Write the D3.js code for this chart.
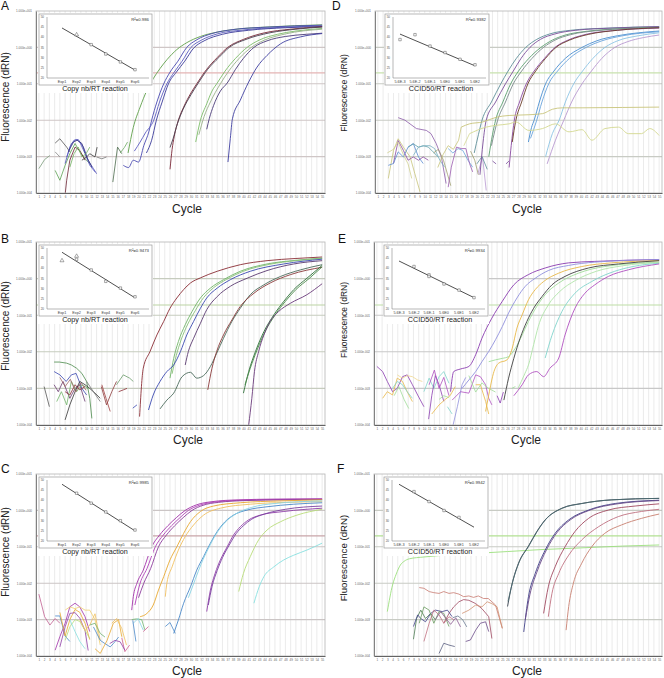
<!DOCTYPE html>
<html><head><meta charset="utf-8">
<script src="https://cdn.jsdelivr.net/npm/d3@7"></script>
<style>
body{margin:0;background:#fff}
svg{display:block}
text{font-family:"Liberation Sans",Arial,Helvetica,sans-serif}
</style>
</head><body>
<svg id="chart" width="664" height="678"></svg>
<script>
// ---------- shared tick data ----------
const cycleTicks = d3.range(1, 56);
const decadeExp = [1, 0, -1, -2, -3, -4];
const decadeLabels = ["1.000e+001","1.000e+000","1.000e-001","1.000e-002","1.000e-003","1.000e-004"];
const insetYTicks = [50, 45, 40, 35, 30, 25, 20];
const insetPositions = [1, 2, 3, 4, 5, 6];
const copyLabels = ["Exp1","Exp2","Exp3","Exp4","Exp5","Exp6"];
const ccidLabels = ["5.6E-3","5.6E-2","5.6E-1","5.6E0","5.6E1","5.6E2"];
const thresholdLog = [-0.7, -0.72, -0.7, -0.7, -0.72, -0.7];

// ---------- Panel A : [cycle, log10 dRn] ----------
const ampA = [
 [[18,-2.9],[19,-2.2],[20.3,-1.64],[21.6,-1.18],[22.8,-0.86],[24.1,-0.58],[25.4,-0.34],[27.3,-0.06],[29.2,0.13],[31.8,0.3],[35,0.42],[38,0.49],[44.5,0.56],[55,0.62]],
 [[17.1,-3.24],[18.1,-3.3],[19,-3.1],[20,-3.15],[21,-2.7],[22,-2.3],[22.5,-2.0],[23.5,-1.5],[24.8,-1.0],[26,-0.68],[27.5,-0.38],[29.2,0],[31,0.2],[34,0.38],[38,0.49],[45,0.56],[55,0.61]],
 [[19.2,-2.85],[20.3,-2.6],[21.3,-2.35],[22.9,-2.0],[24,-1.5],[25.4,-1.0],[26.8,-0.68],[28.3,-0.38],[30,0],[32,0.2],[35,0.37],[40,0.48],[47,0.55],[55,0.59]],
 [[21.5,-2.9],[22.5,-2.55],[23.4,-2.0],[24.5,-1.5],[25.7,-1.0],[27.2,-0.68],[28.8,-0.38],[30.5,-0.02],[32.5,0.18],[36,0.36],[41,0.47],[48,0.54],[55,0.57]],
 [[26,-3.35],[26.4,-2.8],[26.8,-2.45],[27.6,-2.0],[28.6,-1.64],[30,-1.25],[31.1,-1.0],[33,-0.6],[35,-0.28],[37,0],[40,0.22],[44,0.4],[49,0.5],[55,0.57]],
 [[26,-2.75],[26.6,-2.5],[27.4,-2.1],[28.5,-1.7],[30,-1.3],[31.3,-1.0],[33.2,-0.6],[35.3,-0.28],[37.3,0],[40.5,0.22],[45,0.4],[50,0.5],[55,0.56]],
 [[30.9,-2.6],[31.8,-2.0],[33,-1.55],[34,-1.2],[35,-0.98],[36.5,-0.65],[38.5,-0.3],[40.7,0],[43,0.2],[46.5,0.36],[50,0.45],[55,0.52]],
 [[31.5,-2.4],[32.5,-1.9],[33.7,-1.5],[35.6,-1.0],[37.2,-0.65],[39.2,-0.3],[41.5,0],[44,0.2],[48,0.37],[55,0.5]],
 [[33,-2.25],[33.5,-1.95],[34.3,-1.6],[35.6,-1.2],[36.9,-0.98],[38.5,-0.6],[40,-0.3],[42,0],[44.5,0.18],[48,0.3],[52,0.36],[55,0.39]],
 [[37.05,-3.15],[37.5,-2.5],[37.9,-1.96],[39.4,-1.45],[41,-0.95],[42.6,-0.54],[44.5,-0.22],[47.1,0.1],[50.9,0.29],[55,0.38]]
];
const ampAColors = ["#5f9f4a","#4848b0","#5a5ac0","#3a3a98","#7a2838","#4a4050","#7cbc68","#9ab08a","#4a3a78","#3e3ea0"];
const noiseA = [
 [[1,-3.33],[2.1,-3.08],[3.1,-2.97]],
 [[4.1,-2.63],[5,-2.51],[6.3,-2.74],[6.9,-2.87]],
 [[4.1,-2.87],[5,-3.01]],
 [[4.1,-3.38],[5,-3.65],[6,-3.24],[6.9,-2.92],[7.9,-2.64],[8.8,-2.87],[9.8,-3.06],[10.7,-3.19]],
 [[6,-4.05],[6.3,-3.65],[6.9,-3.1],[7.9,-2.74],[8.8,-2.83],[9.8,-3.1]],
 [[6,-3.19],[6.9,-2.74],[7.7,-2.55],[8.5,-2.53],[9.5,-2.74],[10.4,-3.1],[11.4,-3.33],[12,-3.47]],
 [[6.3,-3.01],[7.2,-2.64],[8.1,-2.53],[8.8,-2.6],[9.8,-2.92],[10.7,-3.24],[11.7,-3.42]],
 [[6.6,-2.87],[7.6,-2.6],[8.3,-2.55],[9.2,-2.64],[10.1,-3.01],[11.1,-3.29]],
 [[6.9,-3.29],[7.7,-2.92],[8.5,-2.74],[9.2,-3.01],[10,-2.92],[10.7,-2.74]],
 [[9.2,-3.1],[10.1,-3.01],[10.7,-2.92],[11.7,-3.01],[12.1,-2.74]],
 [[12,-3.01],[13,-3.06],[13.9,-3.01]],
 [[15.1,-3.7],[16,-2.74],[16.8,-2.92]],
 [[16.5,-2.9],[17.3,-2.75],[17.9,-2.6]]
];
const noiseAColors = ["#7a9a7a","#555555","#888888","#5aa050","#6a2030","#4a4ab8","#5858c0","#33337a","#70b060","#3a3a3a","#777777","#4a6a4a","#6aa860"];
const stdAPoints = [[2,41.3,"tri"],[3,36.4,"sq"],[4,31.8,"sq"],[5,27.9,"sq"],[6,24.1,"sq"]];
const stdAFit = [44.6, 23.9];
const stdAR2 = "0.986";

// ---------- Panel B ----------
const ampB = [
 [[20.2,-3.77],[20.9,-2.45],[22.2,-1.99],[23.5,-1.54],[24.8,-1.17],[26,-0.81],[27.3,-0.53],[28.6,-0.3],[29.9,-0.12],[31.8,0.02],[35,0.2],[39.4,0.38],[44.5,0.49],[50,0.55],[55,0.59]],
 [[26,-2.72],[26.7,-2.18],[27.6,-1.72],[28.9,-1.26],[30.2,-0.9],[31.8,-0.53],[33.7,-0.26],[36.2,-0.03],[39.4,0.2],[44.5,0.4],[50,0.5],[55,0.56]],
 [[26.4,-2.6],[27.2,-2.1],[28.1,-1.68],[29.4,-1.24],[30.8,-0.88],[32.4,-0.52],[34.3,-0.25],[36.8,-0.02],[40,0.2],[45,0.39],[50,0.49],[55,0.55]],
 [[21.9,-3.59],[22.8,-3.18],[24.1,-2.81],[25.4,-2.54],[26.7,-2.36],[28,-1.99],[29.2,-1.54],[30.5,-1.17],[31.8,-0.81],[33,-0.53],[35,-0.26],[37.5,-0.03],[41.3,0.2],[47.7,0.4],[55,0.53]],
 [[28.9,-2.36],[29.5,-1.99],[30.5,-1.63],[31.8,-1.22],[33,-0.85],[35,-0.49],[37.5,-0.21],[40.7,0.01],[44.5,0.22],[49.6,0.4],[55,0.49]],
 [[24.1,-3.56],[25.4,-3.32],[26.7,-3.13],[28.3,-2.68],[29.9,-2.56],[31.1,-2.72],[32.4,-2.65],[33.7,-2.4],[34.9,-2.04],[36.2,-1.63],[37.8,-1.17],[39.4,-0.81],[41.3,-0.44],[43.9,-0.17],[47.1,0.06],[50.9,0.24],[55,0.38]],
 [[33.2,-3.04],[34,-2.45],[34.9,-1.99],[36.2,-1.54],[37.8,-1.13],[39.4,-0.76],[42,-0.4],[45.1,-0.12],[49,0.11],[55,0.31]],
 [[40,-3.13],[41,-2.54],[42.3,-1.99],[43.9,-1.45],[45.8,-0.99],[47.7,-0.62],[49.6,-0.3],[52.1,0.01],[55,0.36]],
 [[40.3,-2.9],[41.3,-2.45],[42.6,-1.95],[44.2,-1.43],[46.1,-0.98],[48,-0.62],[50,-0.3],[52.5,0],[55,0.32]],
 [[41,-4.0],[41.6,-3.27],[42.1,-2.54],[42.9,-1.99],[43.9,-1.54],[45.1,-1.17],[46.7,-0.9],[49,-0.67],[52.1,-0.44],[55,-0.14]]
];
const ampBColors = ["#8a2c34","#70b468","#88c078","#3a48b0","#5a3a70","#4a6a5a","#8a3a3a","#2f6f3a","#4a8a4a","#6a3a7a"];
const noiseB = [
 [[2,-2.95],[3,-3.5]],
 [[3.9,-2.28],[4.9,-2.28],[6.3,-2.31],[7.2,-2.36],[8.2,-2.45],[9.2,-2.59],[10.1,-2.81],[10.7,-3.27],[11.1,-3.82]],
 [[3.9,-2.54],[5,-2.63],[6.2,-2.81],[7.2,-2.63],[8.1,-2.59],[9.2,-3.0],[10.1,-3.18]],
 [[3.9,-2.9],[4.7,-3.09],[5.6,-2.81],[6.9,-3.27],[7.9,-3.0],[8.8,-2.9],[9.8,-3.36]],
 [[4.4,-3.36],[5.3,-3.09],[6.3,-3.45],[7.2,-2.81],[8.2,-3.09],[9.2,-2.9],[10.4,-3.0]],
 [[6,-3.86],[6.9,-3.45],[7.9,-3.09],[8.8,-2.81],[9.8,-2.9],[10.7,-3.0],[11.7,-3.13],[12.7,-3.27]],
 [[6,-3.09],[6.9,-3.18],[7.9,-2.9],[8.8,-3.04],[9.8,-2.95]],
 [[10.1,-2.81],[11.4,-3.09],[12.7,-3.36]],
 [[12.9,-2.95],[13.9,-3.45],[14.9,-3.09],[15.8,-2.81]],
 [[13,-2.9],[13.8,-3.27],[14.6,-3.63]],
 [[15.8,-2.9],[17.1,-2.63],[18.3,-2.72],[19,-2.81]],
 [[16.2,-3.09],[17.1,-3.04],[17.8,-3.0]],
 [[18.9,-3.54],[19.7,-3.45]],
 [[5,-2.7],[6,-2.95],[7,-2.75],[8,-3.1],[9,-2.85],[10,-3.05]]
];
const noiseBColors = ["#555555","#4a8a4a","#3a48b0","#6a3a70","#70b468","#333333","#8a2c34","#777777","#8a3a3a","#a04040","#6a9a6a","#8a2c34","#3a48b0","#a06a6a"];
const stdBPoints = [[1,43.8,"tri"],[2,46,"tri"],[2,44.4,"sq"],[3,39.2,"sq"],[4,33.6,"sq"],[5,30.3,"sq"],[6,26,"sq"]];
const stdBFit = [47.9, 25.5];
const stdBR2 = "0.9473";

// ---------- Panel C ----------
const ampC = [
 [[18.7,-2.74],[19,-2.37],[19.7,-2.0],[20.9,-1.64],[22.5,-1.0],[24,-0.68],[25.6,-0.42],[27.2,-0.2],[28.9,0],[31,0.15],[34,0.24],[39,0.29],[46,0.31],[55,0.32]],
 [[19.3,-2.6],[20.3,-2.0],[21.6,-1.6],[23.2,-1.0],[24.7,-0.68],[26.3,-0.42],[27.9,-0.2],[29.5,0],[31.6,0.14],[34.6,0.23],[40,0.28],[47,0.3],[55,0.31]],
 [[20,-2.4],[21,-2.0],[22.3,-1.6],[23.8,-1.0],[25.3,-0.68],[26.9,-0.42],[28.5,-0.2],[30.2,0],[32.3,0.14],[35.2,0.22],[40.5,0.27],[48,0.29],[55,0.3]],
 [[20.3,-2.92],[21.6,-2.83],[22.8,-2.6],[23.8,-2.19],[24.8,-1.82],[26,-1.36],[27.3,-1.0],[28.6,-0.63],[29.9,-0.31],[31.8,-0.03],[34.3,0.12],[39.4,0.21],[47,0.26],[55,0.29]],
 [[25.1,-2.37],[25.4,-2.0],[26.4,-1.55],[27.6,-1.09],[28.9,-0.72],[30.5,-0.4],[32.4,-0.13],[35.6,0.06],[41.3,0.17],[48,0.22],[55,0.24]],
 [[26.7,-3.38],[27.6,-3.01],[28.6,-2.55],[29.9,-2.1],[31.1,-1.64],[32.4,-1.27],[33.7,-0.9],[35,-0.58],[36.5,-0.31],[38.1,-0.13],[40.7,0.01],[44.5,0.1],[49.6,0.17],[55,0.21]],
 [[29.5,-2.4],[30.8,-1.9],[32,-1.45],[33.3,-1.05],[34.8,-0.65],[36.5,-0.33],[38.5,-0.1],[41.5,0.08],[46,0.19],[55,0.26]],
 [[33,-2.78],[33.7,-2.19],[34.6,-1.73],[35.6,-1.36],[36.9,-1.0],[38.1,-0.68],[39.4,-0.45],[41,-0.26],[43.2,-0.13],[47.7,-0.03],[55,0.06]],
 [[33.3,-2.6],[34,-2.1],[35,-1.65],[36,-1.3],[37.3,-0.95],[38.6,-0.64],[40,-0.42],[41.6,-0.24],[44,-0.1],[48,0.03],[55,0.12]],
 [[39.1,-2.23],[40,-1.73],[41.3,-1.27],[42.9,-0.81],[44.5,-0.54],[47.1,-0.31],[50.2,-0.13],[55,0.03]],
 [[42,-2.55],[43,-2.1],[43.9,-1.82],[45.8,-1.55],[47.7,-1.36],[49.6,-1.23],[52.1,-1.09],[55,-0.9]]
];
const ampCColors = ["#a030a8","#b040b8","#8c3c9c","#e8a830","#f0c060","#4a88c8","#88d4e4","#9040a8","#7a40a0","#b8dc78","#88e0e0"];
const noiseC = [
 [[1,-2.3],[2.1,-2.92],[3.1,-3.15],[4.1,-2.97],[5,-3.1]],
 [[4.1,-3.84],[5,-3.47],[6,-3.1],[6.9,-2.65],[7.9,-2.55],[8.8,-2.65],[9.8,-2.92],[10.7,-3.33]],
 [[4.1,-2.9],[5,-2.9],[6,-3.45],[6.9,-3.6]],
 [[5,-2.8],[6,-3.45],[6.9,-3.0],[7.9,-2.72],[8.8,-2.8],[9.8,-3.1],[10.7,-3.55]],
 [[6,-2.74],[6.9,-2.65],[7.9,-2.7],[8.8,-2.65],[9.8,-2.74],[10.7,-2.74],[11.7,-3.0],[12.7,-3.7]],
 [[5,-3.75],[6,-3.2],[6.9,-2.83],[7.9,-2.81],[8.8,-2.96],[9.8,-3.3],[10.4,-3.85]],
 [[6,-3.57],[6.9,-3.2],[7.9,-3.0],[8.8,-3.05],[9.8,-3.3],[10.7,-3.52]],
 [[6.9,-3.0],[7.9,-3.33],[8.8,-3.6],[9.8,-3.8]],
 [[8.8,-3.0],[9.8,-3.3],[10.7,-3.15],[11.7,-2.84],[12.7,-3.57]],
 [[10.7,-3.15],[11.7,-3.1],[12.7,-3.38],[13.6,-3.48]],
 [[11.4,-3.2],[12.7,-3.57],[13.6,-3.66],[14.6,-3.75],[15.2,-3.66],[16.2,-3.48]],
 [[11.7,-3.8],[12.7,-3.93],[14,-3.57],[15.2,-3.1],[16.2,-3.0],[16.8,-3.47]],
 [[14.9,-3.1],[15.8,-2.97],[16.8,-3.24],[17.7,-3.7]],
 [[16.8,-3.5],[17.4,-3.88],[18.3,-3.7]],
 [[14.5,-3.66],[15.5,-3.57],[16.5,-3.61],[17.4,-3.84]],
 [[18.7,-3.0],[19.6,-2.98],[20.6,-3.0],[21.2,-3.28]],
 [[19,-3.1],[19.9,-2.97],[20.9,-3.29]],
 [[18.9,-3.02],[19.5,-3.6]],
 [[20.9,-3.33],[21.9,-3.19]],
 [[25.1,-3.19],[26,-3.08],[27,-3.38]]
];
const noiseCColors = ["#c06090","#a030a8","#4a88c8","#e8a830","#f0d070","#9040a8","#b8dc78","#88e0e0","#f0c060","#70b070","#4a88c8","#e8a830","#f0c060","#d06090","#9040a8","#70b870","#88d4e4","#4a88c8","#d06090","#4a88c8"];
const stdCPoints = [[2,43.5,"sq"],[3,38.6,"sq"],[4,34.3,"sq"],[5,30,"sq"],[6,25.4,"sq"]];
const stdCFit = [47.9, 25];
const stdCR2 = "0.9985";

// ---------- Panel D ----------
const ampD = [
 [[19.5,-2.9],[20.3,-2.4],[21,-2.0],[22.8,-1.5],[24.6,-1.0],[26,-0.65],[27.6,-0.3],[29.4,0],[31.5,0.22],[34,0.37],[38,0.47],[45,0.53],[55,0.57]],
 [[20.6,-3.5],[21.2,-2.6],[21.8,-2.0],[23.6,-1.5],[25.5,-1.0],[27,-0.65],[28.5,-0.3],[30.2,0],[32.2,0.22],[35,0.37],[39,0.47],[46,0.53],[55,0.57]],
 [[22.3,-3.0],[23,-2.4],[23.6,-2.0],[25,-1.5],[26.5,-1.0],[28,-0.65],[30,-0.3],[32.3,0],[34.5,0.2],[37,0.34],[41,0.44],[47,0.51],[55,0.55]],
 [[22.8,-2.7],[24,-2.0],[25.5,-1.5],[27,-1.0],[28.6,-0.65],[30.6,-0.3],[32.8,0],[35,0.2],[38,0.35],[43,0.46],[55,0.55]],
 [[26.2,-3.3],[26.6,-2.7],[27.2,-2.0],[28.2,-1.5],[29.5,-1.0],[31,-0.65],[33,-0.3],[35,0],[37.5,0.2],[41,0.36],[46,0.46],[55,0.53]],
 [[26.8,-2.6],[27.5,-2.0],[28.6,-1.5],[29.8,-1.0],[31.3,-0.65],[33.2,-0.3],[35.2,0],[37.8,0.2],[41.5,0.36],[47,0.47],[55,0.54]],
 [[29.9,-2.6],[30.5,-2.2],[31,-2.0],[32,-1.5],[33.2,-1.0],[34.8,-0.65],[37,-0.3],[40.2,0],[43,0.18],[47,0.32],[51,0.4],[55,0.45]],
 [[30.3,-2.5],[31.5,-2.0],[32.5,-1.5],[33.8,-1.0],[35.5,-0.65],[37.8,-0.3],[41,0],[44,0.18],[48,0.32],[55,0.43]],
 [[33.2,-3.0],[34.5,-2.37],[35.8,-2.0],[37,-1.5],[38.6,-1.0],[40.3,-0.65],[42.3,-0.3],[44.6,0],[47,0.18],[51,0.32],[55,0.4]],
 [[33.5,-3.2],[35.1,-2.55],[36.7,-2.0],[38.2,-1.5],[40.2,-1.0],[42,-0.65],[44,-0.3],[46.5,0],[49,0.16],[52,0.27],[55,0.34]],
 [[17,-2.19],[18.6,-2.1],[21.1,-2.05],[23.7,-1.92],[26.2,-1.87],[30,-1.85],[32.6,-1.82],[34.5,-1.7],[36.4,-1.66],[40.2,-1.66],[48,-1.65],[55,-1.64]],
 [[18.6,-2.37],[21.8,-2.19],[23.7,-2.14],[26.2,-2.1],[27.5,-2.05],[30,-2.28],[32.6,-2.23],[35.1,-2.1],[37.7,-2.32],[40.2,-2.26],[42.1,-2.55],[44.6,-2.23],[47.2,-2.19],[49.1,-2.37],[51.6,-2.37],[53.2,-2.23],[55,-2.42]]
];
const ampDColors = ["#5f8f98","#7a4e9a","#5a9e6e","#7a8a8a","#8a4aa0","#6a3c28","#4a8fd0","#6aa4dc","#8cc4e4","#b898d0","#c8c47a","#d4d890"];
const noiseD = [
 [[4.9,-1.93],[6.2,-2.0],[8.4,-2.23],[10.3,-2.28],[11.2,-2.37],[12.2,-2.64],[13.2,-3.01],[14.1,-3.74]],
 [[3,-3.6],[4,-2.83],[4.9,-2.51],[5.9,-2.74],[7.2,-3.01],[8.1,-3.47],[9.1,-3.97]],
 [[4,-3.19],[4.9,-2.56],[5.9,-2.83],[6.8,-3.1],[7.8,-3.01],[8.8,-3.1],[9.7,-3.01],[10.7,-3.1]],
 [[3,-3.24],[4,-3.19],[4.9,-2.87],[5.9,-3.01],[6.8,-2.74],[7.8,-2.64],[8.8,-3.01],[9.7,-3.19]],
 [[6.8,-2.74],[7.8,-2.65],[8.8,-2.74],[9.7,-2.7],[10.7,-2.74],[11.6,-2.87],[12.6,-3.01]],
 [[7.8,-2.97],[8.8,-2.74],[10,-2.7],[11,-2.7],[11.9,-2.78],[12.9,-3.1],[13.8,-3.29]],
 [[2.8,-2.9],[4,-2.8],[4.9,-2.6],[5.9,-2.95],[6.8,-3.2],[7.5,-3.6]],
 [[11.7,-2.9],[12.6,-2.8],[13.6,-3.1],[14.4,-3.5],[15,-3.8]],
 [[14.5,-2.78],[15.4,-2.9],[16.4,-2.78],[17.3,-2.83],[18.3,-3.1],[19.2,-3.29]],
 [[14.5,-3.84],[15.1,-3.29],[16.1,-2.74],[17,-2.78],[17.9,-2.78],[18.6,-3.19],[19.2,-3.42]],
 [[12.5,-3.3],[13.5,-2.95],[14.5,-2.7],[15.5,-2.8],[16.5,-2.55],[17,-2.19]],
 [[17.5,-2.7],[18.6,-2.37]],
 [[18.8,-2.85],[19.6,-3.1],[20.3,-3.5]],
 [[20.2,-3.47],[21.1,-3.01],[21.8,-3.93]],
 [[23,-3.12],[23.7,-3.2]],
 [[25.6,-3.2],[26.2,-3.12]],
 [[20,-3.2],[21,-3.0],[22,-3.35]]
];
const noiseDColors = ["#8a5aa8","#c8c47a","#8a4aa0","#5a8ad0","#5f9fa8","#78b0c0","#d0d090","#a0a070","#6aa4dc","#9a5ab0","#c8c47a","#d4d890","#a0a070","#b898d0","#7a4e9a","#7a4e9a","#5f8f98"];
const stdDPoints = [[1,38.9,"sq"],[2,41.3,"sq"],[3,35.7,"sq"],[4,32.5,"sq"],[5,29.2,"sq"],[6,26.5,"sq"]];
const stdDFit = [41.6, 26];
const stdDR2 = "0.9382";

// ---------- Panel E ----------
const ampE = [
 [[15.1,-3.09],[15.7,-2.54],[17,-2.47],[18.6,-2.4],[19.9,-2.08],[21.1,-1.63],[23,-1.08],[25,-0.62],[27.2,-0.17],[30,0.11],[33.2,0.29],[37.7,0.43],[42.7,0.47],[55,0.52]],
 [[17.3,-3.0],[18.6,-2.77],[19.9,-2.54],[21.1,-2.27],[22.4,-1.99],[23.7,-1.67],[25,-1.31],[26.2,-0.94],[27.8,-0.53],[29.4,-0.21],[31.3,0.01],[33.8,0.22],[37.7,0.36],[42.7,0.45],[55,0.52]],
 [[21.8,-3.63],[22.4,-3.18],[23.4,-2.54],[24.3,-2.31],[25.9,-2.22],[26.9,-1.9],[27.8,-1.35],[28.8,-0.99],[30,-0.58],[31.3,-0.3],[32.9,-0.08],[35.8,0.15],[40.2,0.33],[45.9,0.43],[55,0.49]],
 [[22.4,-2.27],[23.7,-2.22],[25,-2.18],[26.2,-2.13],[27.5,-1.9],[28.8,-1.54],[30,-1.17],[31.6,-0.76],[33.2,-0.44],[35.8,-0.12],[39.6,0.15],[44.6,0.33],[55,0.45]],
 [[25.3,-3.32],[26.2,-2.72],[27.2,-2.18],[28.4,-1.63],[29.7,-1.17],[31,-0.81],[32.6,-0.49],[34.5,-0.17],[37,0.06],[41.5,0.29],[47.2,0.4],[55,0.49]],
 [[28,-3.0],[29.3,-2.6],[30,-2.36],[31,-1.8],[31.9,-1.3],[33.8,-0.72],[36,-0.35],[39,-0.05],[43,0.2],[48,0.35],[55,0.44]],
 [[33.2,-2.17],[34.5,-1.55],[36.4,-0.9],[38.9,-0.4],[42.1,-0.08],[46.5,0.2],[50,0.33],[55,0.42]],
 [[27.2,-3.2],[28.8,-2.9],[30,-2.63],[31.6,-2.54],[32.9,-2.68],[34.1,-2.45],[35.8,-2.17],[37,-1.54],[38.9,-0.81],[40.8,-0.4],[42.7,-0.17],[45.3,0.06],[49.1,0.24],[55,0.4]]
];
const ampEColors = ["#8a3cb0","#9090dc","#e8b848","#a0dc98","#404040","#b0e4a8","#80d4cc","#b050c0"];
const noiseE = [
 [[1,-2.4],[2.1,-2.54],[3,-2.81],[4,-3.09],[4.9,-3.0],[5.9,-2.68],[6.8,-2.63],[7.8,-2.9],[8.8,-3.18],[10,-3.5]],
 [[2.1,-3.27],[3,-3.09],[4,-3.18],[4.9,-2.72],[5.9,-2.81],[6.8,-3.09],[7.8,-3.36]],
 [[4,-3.0],[4.9,-2.81],[5.9,-2.9],[6.8,-3.09],[7.8,-3.27]],
 [[4.9,-2.63],[5.9,-2.72],[6.8,-2.65],[7.8,-2.68],[8.8,-2.77],[9.7,-2.81]],
 [[4.3,-3.2],[5.2,-2.95],[6.2,-3.3],[7.1,-3.55]],
 [[10,-3.09],[11,-2.72],[11.9,-3.0],[12.9,-2.68],[13.8,-2.54],[14.8,-2.86]],
 [[10.9,-3.84],[11.5,-3.2],[12.2,-2.65],[12.9,-2.9],[13.8,-3.35]],
 [[11,-2.9],[12,-2.5],[12.9,-3.0],[13.8,-2.7],[14.8,-3.2]],
 [[11.5,-3.7],[12.9,-3.45],[14.1,-3.3],[15,-3.2],[16,-2.95]],
 [[12.9,-3.3],[13.8,-3.2],[14.8,-3.25]],
 [[14.5,-3.5],[15.4,-3.7]],
 [[15.5,-4.05],[16.4,-3.5],[17.3,-2.9],[18,-2.7]],
 [[15.4,-3.32],[17,-3.09],[18.6,-3.13],[19.9,-2.63],[20.8,-2.68],[21.8,-2.9],[22.4,-3.27],[23,-3.45]],
 [[19.9,-2.9],[20.8,-2.9],[21.8,-3.35],[22.4,-3.7]],
 [[18.6,-2.65],[19.9,-3.1],[21.1,-2.85],[22.4,-3.0],[23.7,-3.1]],
 [[24,-3.2],[24.6,-3.4],[25.2,-3.1]],
 [[26.8,-3.0],[27.5,-2.95]]
];
const noiseEColors = ["#8a3cb0","#e8b848","#80d4cc","#f0d890","#a0dc98","#80d4cc","#8a3cb0","#b050c0","#e8b848","#a0dc98","#80d4cc","#9090dc","#b050c0","#e8b848","#a0dc98","#8a3cb0","#a0dc98"];
const stdEPoints = [[2,40.9,"sq"],[3,36.8,"sq"],[3,36,"sq"],[4,32.3,"sq"],[5,29.3,"sq"],[6,25.6,"sq"]];
const stdEFit = [43.6, 25.6];
const stdER2 = "0.9934";

// ---------- Panel F ----------
const ampF = [
 [[3,-2.78],[4,-2.05],[4.7,-1.75],[5.5,-1.5],[6.2,-1.4],[7.2,-1.33],[10,-1.28],[15,-1.22],[20,-1.18],[26,-1.13],[32,-1.08],[40,-1.03],[48,-0.98],[55,-0.95]],
 [[26,-2.64],[26.9,-2.0],[28.1,-1.45],[30,-0.98],[31.6,-0.58],[33.2,-0.26],[36.4,0.06],[40.2,0.19],[45.9,0.29],[55,0.33]],
 [[26.1,-2.5],[27,-1.95],[28.2,-1.43],[30.1,-0.97],[31.7,-0.57],[33.3,-0.25],[36.5,0.06],[40.3,0.19],[46,0.29],[55,0.33]],
 [[29.1,-3.34],[30,-2.37],[31.3,-1.73],[33.2,-1.09],[35.1,-0.63],[37.7,-0.26],[41.5,0.01],[46.6,0.19],[55,0.28]],
 [[29.4,-3.0],[30.3,-2.3],[31.6,-1.7],[33.5,-1.07],[35.4,-0.62],[38,-0.26],[41.8,0.01],[47,0.18],[55,0.27]],
 [[32.9,-2.83],[33.8,-2.1],[35.1,-1.55],[37,-1.0],[38.9,-0.58],[41.5,-0.22],[45.3,0.01],[50.4,0.12],[55,0.18]],
 [[33.8,-2.92],[34.5,-2.28],[35.8,-1.73],[37.7,-1.23],[40.2,-0.81],[43.4,-0.45],[47.2,-0.17],[51.6,-0.03],[55,0.03]],
 [[37.2,-3.29],[37.7,-2.64],[38.6,-2.0],[40.2,-1.45],[42.1,-1.0],[44.6,-0.63],[47.8,-0.4],[51.6,-0.22],[55,-0.1]]
];
const ampFColors = ["#9ce07e","#3a4450","#4a6a70","#404088","#6a4a88","#a04860","#c07080","#c88070"];
const noiseF = [
 [[9.1,-2.12],[10,-2.14],[11,-2.23],[11.9,-2.26],[12.9,-2.28],[13.8,-2.23],[14.8,-2.28],[15.7,-2.26],[16.7,-2.3],[17.6,-2.37],[18.6,-2.35],[19.5,-2.39],[20.4,-2.35],[21.4,-2.42],[22.3,-2.42],[23.7,-2.6],[25,-3.24]],
 [[13.8,-3.1],[14.8,-2.83],[15.7,-2.65],[16.7,-2.51],[17.6,-2.45],[18.6,-2.47],[19.9,-2.56],[21.1,-2.7],[22.4,-2.92],[23,-3.52]],
 [[17.3,-2.83],[18.6,-2.74],[19.9,-2.6],[21.1,-2.65],[22.1,-2.51],[23,-2.56],[24,-2.65],[25,-3.24]],
 [[8,-3.54],[8.6,-2.97],[9.4,-2.74],[10.3,-2.97],[11.3,-2.83],[12.2,-3.01]],
 [[8,-3.19],[8.8,-2.87],[9.4,-2.97],[10.3,-3.06],[11.3,-2.83],[12.2,-2.74],[13.5,-2.78],[14.5,-2.74],[15.4,-2.92]],
 [[9.1,-3.1],[10,-2.65],[11,-2.74],[11.9,-3.1],[12.9,-2.78],[13.8,-2.83],[14.8,-3.19]],
 [[10,-3.6],[11,-3.1],[11.9,-2.74],[12.9,-2.87],[13.8,-3.1],[14.8,-2.92],[15.7,-3.0]],
 [[12.2,-3.0],[13.2,-2.78],[14.1,-2.95],[15.1,-3.13],[16.1,-2.95],[17,-3.2]],
 [[12.9,-3.93],[13.8,-3.65],[14.8,-3.7],[15.9,-3.74]],
 [[18,-3.6],[18.9,-3.56],[19.9,-3.29],[20.8,-3.1],[21.8,-3.06],[22.4,-3.33]],
 [[15.5,-2.95],[16.5,-2.9],[17.4,-3.0],[18.2,-3.2]]
];
const noiseFColors = ["#c87a70","#a04860","#d09070","#4a7a50","#404088","#6a9a60","#c07080","#8a5a90","#5a6080","#6a4a88","#6a7a90"];
const stdFPoints = [[2,44.3,"sq"],[3,39.4,"sq"],[4,35,"sq"],[5,31.6,"sq"]];
const stdFFit = [47.9, 26.8];
const stdFR2 = "0.9942";

// ---------- layout (positions / styles) ----------
const panels = [
 {id:"A", x0:36, x1:325, y0:11,  y1:193, col:0, amp:ampA, ampC:ampAColors, noise:noiseA, noiseC:noiseAColors, pts:stdAPoints, fit:stdAFit, r2:stdAR2, labels:copyLabels, title:"Copy nb/RT reaction", letter:[1,10], yt:[9,97,10], cyc:[187,213], thr:"#e4b4b4", grid:"#cfc6c6"},
 {id:"B", x0:36, x1:325, y0:242, y1:425, col:0, amp:ampB, ampC:ampBColors, noise:noiseB, noiseC:noiseBColors, pts:stdBPoints, fit:stdBFit, r2:stdBR2, labels:copyLabels, title:"Copy nb/RT reaction", letter:[1,243], yt:[9,326,10], cyc:[188,444], thr:"#bcd4a4", grid:"#c6ccbe"},
 {id:"C", x0:36, x1:325, y0:474, y1:656, col:0, amp:ampC, ampC:ampCColors, noise:noiseC, noiseC:noiseCColors, pts:stdCPoints, fit:stdCFit, r2:stdCR2, labels:copyLabels, title:"Copy nb/RT reaction", letter:[1,473], yt:[9,552,10], cyc:[187,675], thr:"#c8a4a8", grid:"#cbc5c5"},
 {id:"D", x0:375, x1:662, y0:11,  y1:193, col:1, amp:ampD, ampC:ampDColors, noise:noiseD, noiseC:noiseDColors, pts:stdDPoints, fit:stdDFit, r2:stdDR2, labels:ccidLabels, title:"CCID50/RT reaction", letter:[332,10], yt:[347,93,8.7], cyc:[527,213], thr:"#c8e2ae", grid:"#c8cbc4"},
 {id:"E", x0:374, x1:662, y0:242, y1:425, col:1, amp:ampE, ampC:ampEColors, noise:noiseE, noiseC:noiseEColors, pts:stdEPoints, fit:stdEFit, r2:stdER2, labels:ccidLabels, title:"CCID50/RT reaction", letter:[338,243], yt:[347,320,8.5], cyc:[526,444], thr:"#bedea6", grid:"#c8c8c8"},
 {id:"F", x0:374, x1:662, y0:474, y1:656, col:1, amp:ampF, ampC:ampFColors, noise:noiseF, noiseC:noiseFColors, pts:stdFPoints, fit:stdFFit, r2:stdFR2, labels:ccidLabels, title:"CCID50/RT reaction", letter:[337,473], yt:[347,558,9.7], cyc:[527,675], thr:"#b2e092", grid:"#c8cbc4"}
];

const svg = d3.select("#chart");
const defs = svg.append("defs");

panels.forEach((p, pi) => {
  const g = svg.append("g");
  const x = d3.scaleLinear().domain([0.45, 55.55]).range([p.x0, p.x1]);
  const y = d3.scaleLog().domain([1e-4, 10]).range([p.y1, p.y0]);
  const W = p.x1 - p.x0, H = p.y1 - p.y0;

  defs.append("clipPath").attr("id", "clip" + p.id)
    .append("rect").attr("x", p.x0).attr("y", p.y0).attr("width", W).attr("height", H);

  // background
  g.append("rect").attr("x", p.x0).attr("y", p.y0).attr("width", W).attr("height", H).attr("fill", "#fff");

  // vertical cycle grid
  g.append("g").selectAll("line").data(cycleTicks).join("line")
    .attr("x1", d => x(d)).attr("x2", d => x(d))
    .attr("y1", p.y0).attr("y2", p.y1)
    .attr("stroke", "#e3e3e3").attr("stroke-width", 0.7);

  // decade grid
  g.append("g").selectAll("line").data(decadeExp.slice(1, 5)).join("line")
    .attr("x1", p.x0).attr("x2", p.x1)
    .attr("y1", d => y(Math.pow(10, d))).attr("y2", d => y(Math.pow(10, d)))
    .attr("stroke", p.grid).attr("stroke-width", 1.1);

  // threshold
  g.append("line").attr("x1", p.x0).attr("x2", p.x1)
    .attr("y1", y(Math.pow(10, thresholdLog[pi]))).attr("y2", y(Math.pow(10, thresholdLog[pi])))
    .attr("stroke", p.thr).attr("stroke-width", 1.1);

  const curveG = g.append("g").attr("clip-path", "url(#clip" + p.id + ")");
  const smooth = d3.line().x(d => x(d[0])).y(d => y(Math.pow(10, d[1]))).curve(d3.curveMonotoneX);
  const jag = d3.line().x(d => x(d[0])).y(d => y(Math.pow(10, d[1])));

  curveG.selectAll("path.n").data(p.noise).join("path").attr("class", "n")
    .attr("d", jag).attr("fill", "none")
    .attr("stroke", (d, i) => p.noiseC[i]).attr("stroke-width", 0.8);
  curveG.selectAll("path.a").data(p.amp).join("path").attr("class", "a")
    .attr("d", smooth).attr("fill", "none")
    .attr("stroke", (d, i) => p.ampC[i]).attr("stroke-width", 0.9);

  // frame
  g.append("rect").attr("x", p.x0).attr("y", p.y0).attr("width", W).attr("height", H)
    .attr("fill", "none").attr("stroke", "#b4b4b4").attr("stroke-width", 0.8);

  // axes
  const ax = g.append("g").attr("transform", `translate(0,${p.y1})`)
    .call(d3.axisBottom(x).tickValues(cycleTicks).tickSize(0).tickPadding(3).tickFormat(d3.format("d")));
  ax.select(".domain").attr("stroke", "#555").attr("stroke-width", 0.9);
  ax.selectAll("text").attr("font-size", 3).attr("fill", "#666").attr("font-family", "Liberation Sans, Arial, sans-serif");

  const ay = g.append("g").attr("transform", `translate(${p.x0},0)`)
    .call(d3.axisLeft(y).tickValues(decadeExp.map(e => Math.pow(10, e))).tickSize(0).tickPadding(4)
      .tickFormat((d, i) => decadeLabels[i]));
  ay.select(".domain").attr("stroke", "#777").attr("stroke-width", 0.9);
  ay.selectAll("text").attr("font-size", 3).attr("fill", "#666").attr("font-family", "Liberation Sans, Arial, sans-serif");

  // ---------- inset standard curve ----------
  const L = p.col === 0
    ? {fx0: p.x0 + 3, fx1: p.x0 + 116, ax: p.x0 + 11, p1: p.x0 + 26, p6: p.x0 + 99, tx: p.x0 + 59}
    : {fx0: p.x0 + 10, fx1: p.x0 + 114, ax: p.x0 + 18, p1: p.x0 + 25, p6: p.x0 + 100, tx: p.x0 + 66};
  const ig = g.append("g");
  ig.append("rect").attr("x", L.fx0 - 1).attr("y", p.y0 + 2).attr("width", L.fx1 - L.fx0 + 2).attr("height", 80)
    .attr("fill", "#fff");
  ig.append("rect").attr("x", L.fx0).attr("y", p.y0 + 3).attr("width", L.fx1 - L.fx0).attr("height", 71)
    .attr("fill", "#fff").attr("stroke", "#9a9a9a").attr("stroke-width", 0.7);
  const xi = d3.scalePoint().domain(insetPositions).range([L.p1, L.p6]);
  const yi = d3.scaleLinear().domain([20, 50]).range([p.y0 + 67, p.y0 + 6]);

  ig.append("line").attr("x1", L.ax).attr("x2", L.ax).attr("y1", yi(50)).attr("y2", yi(20))
    .attr("stroke", "#888").attr("stroke-width", 0.6);
  ig.append("line").attr("x1", L.ax).attr("x2", L.fx1 - 3).attr("y1", yi(20)).attr("y2", yi(20))
    .attr("stroke", "#888").attr("stroke-width", 0.6);
  ig.selectAll("text.iy").data(insetYTicks).join("text").attr("class", "iy")
    .attr("x", L.ax - 3).attr("y", d => yi(d) + 1).attr("text-anchor", "end")
    .attr("font-size", 3).attr("fill", "#555").text(d => d);
  ig.selectAll("text.ix").data(insetPositions).join("text").attr("class", "ix")
    .attr("x", d => xi(d)).attr("y", yi(20) + 4.6).attr("text-anchor", "middle")
    .attr("font-size", 3.8).attr("fill", "#444").text((d, i) => p.labels[i]);
  ig.append("text").attr("x", L.tx).attr("y", p.y0 + 80).attr("text-anchor", "middle")
    .attr("font-size", 7.2).attr("fill", "#222").text(p.title);
  ig.append("text").attr("x", L.fx1 - 3).attr("y", p.y0 + 10).attr("text-anchor", "end")
    .attr("font-size", 4.3).attr("fill", "#333").text("R²=" + p.r2);
  // regression line
  ig.append("line").attr("x1", xi(1)).attr("x2", xi(6))
    .attr("y1", yi(p.fit[0])).attr("y2", yi(p.fit[1]))
    .attr("stroke", "#222").attr("stroke-width", 0.8);
  // markers
  ig.selectAll("path.m").data(p.pts).join("path").attr("class", "m")
    .attr("d", d => d[2] === "tri"
      ? d3.symbol(d3.symbolTriangle, 7)()
      : d3.symbol(d3.symbolSquare, 6)())
    .attr("transform", d => `translate(${xi(d[0])},${yi(d[1])})`)
    .attr("fill", "#fff").attr("stroke", "#555").attr("stroke-width", 0.5);

  // labels
  svg.append("text").attr("x", p.letter[0]).attr("y", p.letter[1]).attr("font-size", 12)
    .attr("fill", "#111").text(p.id);
  svg.append("text").attr("transform", `translate(${p.yt[0]},${p.yt[1]}) rotate(-90)`)
    .attr("text-anchor", "middle").attr("font-size", p.yt[2]).attr("fill", "#222")
    .text("Fluorescence (dRN)");
  svg.append("text").attr("x", p.cyc[0]).attr("y", p.cyc[1]).attr("text-anchor", "middle")
    .attr("font-size", 12).attr("fill", "#222").text("Cycle");
});
</script>
</body></html>
